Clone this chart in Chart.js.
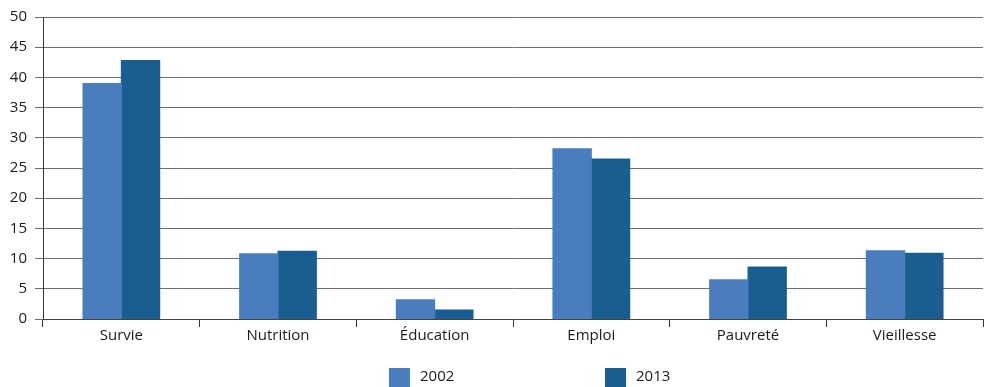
<!DOCTYPE html>
<html>
<head>
<meta charset="utf-8">
<script src="https://cdn.jsdelivr.net/npm/chart.js@4.4.1/dist/chart.umd.min.js"></script>
<style>
    html, body { margin: 0; padding: 0; background: #fff; }
    #wrap { width: 989px; height: 387px; }
</style>
</head>
<body>
<div id="wrap"><canvas id="chart" width="989" height="387"></canvas></div>
<script>
const categories = ['Survie', 'Nutrition', 'Éducation', 'Emploi', 'Pauvreté', 'Vieillesse'];
const seriesNames = ['2002', '2013'];
const values2002 = [39.0, 10.8, 3.2, 28.2, 6.5, 11.3];
const values2013 = [42.8, 11.2, 1.5, 26.5, 8.6, 10.9];
const yTicks = [0, 5, 10, 15, 20, 25, 30, 35, 40, 45, 50];

const FONT = '"Open Sans", "Noto Sans", sans-serif';
const colors = ['#4a7dbd', '#1a5e91'];

// legend drawn below the plot, items spaced far apart like the original
const wideLegend = {
    id: 'wideLegend',
    afterDraw: function(chart, args, opts) {
        const ctx = chart.ctx;
        ctx.save();
        ctx.font = '15px ' + FONT;
        ctx.textBaseline = 'middle';
        chart.data.datasets.forEach((ds, i) => {
            const x = opts.startX + i * opts.spacing;
            ctx.fillStyle = ds.backgroundColor;
            ctx.fillRect(x, opts.top, 21, 20);
            ctx.fillStyle = '#1a1a1a';
            ctx.fillText(ds.label, x + 31, opts.top + 9);
        });
        ctx.restore();
    }
};

new Chart(document.getElementById('chart'), {
    type: 'bar',
    data: {
        labels: categories,
        datasets: [{
            label: seriesNames[0],
            data: values2002,
            backgroundColor: colors[0],
            inflateAmount: 0.5
        }, {
            label: seriesNames[1],
            data: values2013,
            backgroundColor: colors[1],
            inflateAmount: 0.5
        }]
    },
    options: {
        responsive: false,
        animation: false,
        layout: {
            padding: { top: 15, right: 6, bottom: 38, left: 0 }
        },
        datasets: {
            bar: {
                categoryPercentage: 0.49,
                barPercentage: 1.0
            }
        },
        scales: {
            x: {
                grid: {
                    offset: true,
                    drawOnChartArea: false,
                    drawTicks: true,
                    tickLength: 8,
                    color: '#333'
                },
                border: { color: '#444', width: 1 },
                ticks: {
                    color: '#1a1a1a',
                    padding: 0,
                    font: { family: FONT, size: 15 }
                },
                afterFit: function(scale) { scale.height = 30; }
            },
            y: {
                min: 0,
                max: 50,
                afterBuildTicks: function(scale) {
                    scale.ticks = yTicks.map(v => ({ value: v }));
                },
                grid: {
                    color: '#6e6e6e',
                    lineWidth: 1,
                    tickLength: 8
                },
                border: { color: '#333', width: 1 },
                ticks: {
                    color: '#1a1a1a',
                    padding: 8,
                    font: { family: FONT, size: 15 }
                },
                afterFit: function(scale) { scale.width = 43; }
            }
        },
        plugins: {
            legend: { display: false },
            tooltip: { enabled: false },
            wideLegend: { startX: 389, spacing: 216, top: 368 }
        }
    },
    plugins: [wideLegend]
});
</script>
</body>
</html>
